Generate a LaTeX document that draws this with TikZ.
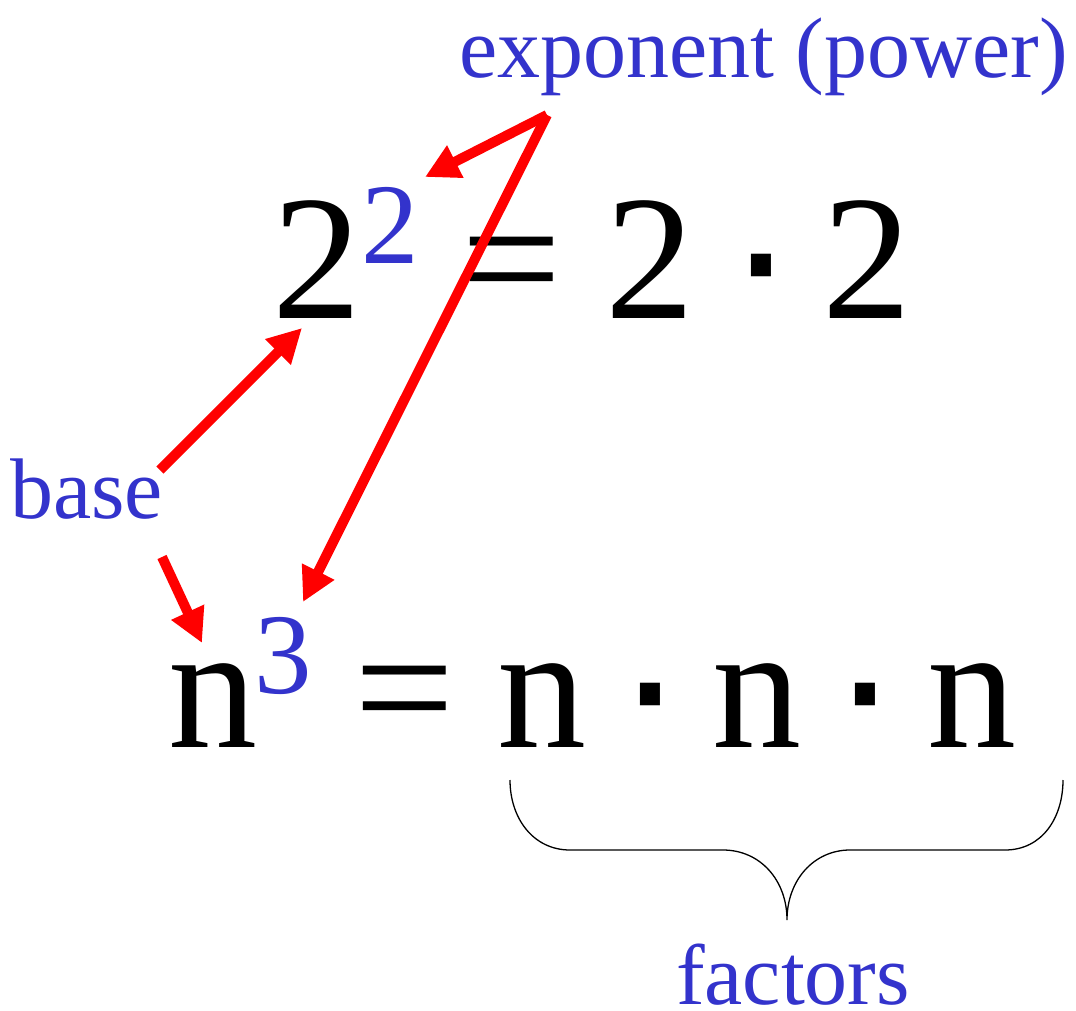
\documentclass[tikz,border=0pt]{standalone}
\usepackage{fontspec}
\setmainfont{Liberation Serif}
\newfontfamily\dotfont{Liberation Sans}
\usetikzlibrary{arrows.meta}
\definecolor{lblblue}{RGB}{51,51,204}
\begin{document}
\begin{tikzpicture}[x=1pt,y=-1pt,
  big/.style={inner sep=0pt,anchor=base,font=\fontsize{178}{178}\selectfont},
  dotchar/.style={inner sep=0pt,anchor=base,font=\dotfont\fontsize{210}{210}\selectfont},
  supr/.style={inner sep=0pt,anchor=base,text=lblblue,font=\fontsize{115}{115}\selectfont},
  lbl/.style={inner sep=0pt,text depth=0pt,text=lblblue,font=\fontsize{86}{86}\selectfont},
  arr/.style={draw=red,line width=10pt,-{Triangle[length=34pt,width=34pt]}},
  bracestyle/.style={draw=black,line width=1.3pt}]
\useasboundingbox (0,0) rectangle (1076,1011);

% line 1
\node[big] (a1) at (317,318) {2};
\node[supr] (a2) at (390,263) {2};
\node[big] (a3) at (512,318) {=};
\node[big] (a4) at (650,318) {2};
\node[dotchar] (a5) at (761,322) {·};
\node[big] (a6) at (867,318) {2};

% line 2
\node[big] (b1) at (213,747) {n};
\node[supr] (b2) at (283,693) {3};
\node[big] (b3) at (405,747) {=};
\node[big] (b4) at (542,747) {n};
\node[dotchar] (b5) at (650,751) {·};
\node[big] (b6) at (757,747) {n};
\node[dotchar] (b7) at (865,751) {·};
\node[big] (b8) at (972,747) {n};

% labels
\node[lbl,anchor=base west] (expo) at (459,78) {exponent (power)};
\node[lbl,anchor=base west] (basel) at (10,518) {base};
\node[lbl,anchor=base] (fact) at (793,1004) {factors};

% arrow end points
\coordinate (apex) at (547,115);
\coordinate (t1) at (425,177);
\coordinate (t2) at (303,602);
\coordinate (s3) at (160,470);
\coordinate (t3) at (302,328);
\coordinate (s4) at (162,557);
\coordinate (t4) at (202,643);

\draw[arr] (apex) -- (t1);
\draw[arr] (apex) -- (t2);
\draw[arr] (s3) -- (t3);
\draw[arr] (s4) -- (t4);

% brace
\coordinate (bl) at (510,780);
\coordinate (btip) at (787,920);
\coordinate (br) at (1063,780);
\draw[bracestyle] (bl) .. controls (510,818) and (533,850) .. (570,850)
  -- (723,850) .. controls (760,850) and (787,880) .. (btip)
  .. controls (787,880) and (814,850) .. (850,850)
  -- (1005,850) .. controls (1042,850) and (1063,818) .. (br);
\end{tikzpicture}
\end{document}
